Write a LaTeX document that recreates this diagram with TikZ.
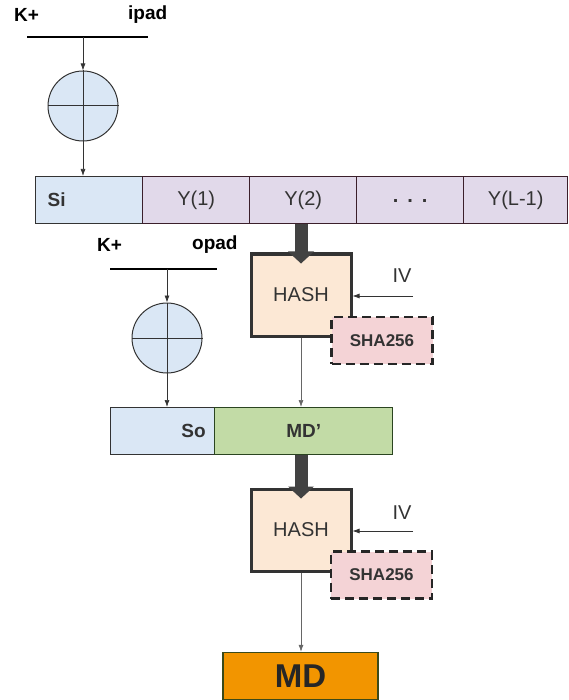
\documentclass[tikz,border=0pt]{standalone}
\usepackage{fontspec}
\setmainfont{Liberation Sans}
\usetikzlibrary{arrows.meta,calc}
\definecolor{siblue}{HTML}{DAE7F5}
\definecolor{ypurple}{HTML}{E1D9EA}
\definecolor{ypurpleb}{HTML}{3B1F2B}
\definecolor{hashfill}{HTML}{FCE8D5}
\definecolor{shafill}{HTML}{F4D3D6}
\definecolor{mdgreen}{HTML}{C2DBA6}
\definecolor{mdgreenb}{HTML}{2A4520}
\definecolor{mdorange}{HTML}{F29500}
\definecolor{mdorangeb}{HTML}{3A4A1A}
\definecolor{darkarrow}{HTML}{424242}
\definecolor{txtgray}{HTML}{333333}
\begin{document}
\begin{tikzpicture}[x=1pt,y=-1pt,
  lbl/.style={font=\fontsize{19}{22}\selectfont\bfseries, inner sep=0pt},
  reg/.style={font=\fontsize{20}{23}\selectfont, text=txtgray},
  cell/.style={draw=ypurpleb, line width=1.4pt, fill=ypurple, minimum width=107pt, minimum height=47pt, inner sep=0pt, anchor=north west, reg},
  bar/.style={line width=1.8pt, black},
  thin/.style={line width=0.7pt, draw=txtgray, -{Latex[length=7pt,width=5pt]}},
  xorc/.style={circle, draw=txtgray, line width=1pt, fill=siblue, minimum size=70pt, inner sep=0pt},
  hashbox/.style={draw=txtgray, line width=3pt, fill=hashfill, minimum width=100pt, minimum height=82pt, inner sep=0pt, reg},
  shabox/.style={draw=black!85, line width=2.8pt, dash pattern=on 9pt off 5pt, fill=shafill, minimum width=101pt, minimum height=47pt, inner sep=0pt, font=\fontsize{17}{20}\selectfont\bfseries, text=txtgray},
  bigshaft/.style={line width=13pt, draw=darkarrow},
  bighead/.style={fill=darkarrow},
]
\useasboundingbox (0,0) rectangle (569,700);

% ---- top: K+ ipad
\node[lbl, anchor=west] (kp1) at (14,15) {K+};
\node[lbl, anchor=west] (ipad) at (128,15) {ipad};
\coordinate (b1l) at (27,37);
\coordinate (b1r) at (148,37);
\coordinate (b1m) at (83,37);
\draw[bar] (b1l) -- (b1r);
\node[xorc] (c1) at (83,106) {};
\draw[line width=1pt, txtgray] (c1.north) -- (c1.south) (c1.west) -- (c1.east);

% ---- row of blocks
\node[cell, fill=siblue, draw=black!80, text width=83pt, align=left, font=\fontsize{19}{22}\selectfont\bfseries, text=txtgray] (si) at (35,176) {Si};
\node[cell] (y1) at (142,176) {Y(1)};
\node[cell] (y2) at (249,176) {Y(2)};
\node[cell, font=\fontsize{20}{23}\selectfont\bfseries] (ydots) at (356,176) {\raisebox{-4pt}{.\hspace{9pt}.\hspace{9pt}.}};
\node[cell, minimum width=104pt] (yl) at (463,176) {Y(L-1)};

\draw[thin] (b1m) -- (c1.north);
\draw[thin] (c1.south) -- (c1.south |- si.north);

% ---- K+ opad
\node[lbl, anchor=west] (kp2) at (97,245) {K+};
\node[lbl, anchor=west] (opad) at (192,245) {opad};
\coordinate (b2l) at (110,269);
\coordinate (b2r) at (217,269);
\coordinate (b2m) at (167,269);
\draw[bar] (b2l) -- (b2r);
\node[xorc] (c2) at (167,338) {};
\draw[line width=1pt, txtgray] (c2.north) -- (c2.south) (c2.west) -- (c2.east);

% ---- first hash
\node[hashbox] (h1) at (301,295) {HASH};
\node[shabox] (s1) at (382,340.5) {SHA256};
\node[reg] (iv1) at (402,276) {IV};
\coordinate (iv1s) at (413,296);
\draw[thin] (iv1s) -- (iv1s -| h1.east);
\draw[bigshaft] (h1.north |- y2.south) -- ($(h1.north)+(0,1)$);
\fill[bighead] ($(h1.north)+(-13,-1)$) -- ($(h1.north)+(13,-1)$) -- ($(h1.north)+(0,11)$) -- cycle;

% ---- So / MD'
\node[draw=black!80, line width=1.4pt, fill=siblue, minimum width=104pt, minimum height=47pt, inner sep=0pt, anchor=north west, text width=86pt, align=right, font=\fontsize{19}{22}\selectfont\bfseries, text=txtgray] (so) at (110,407) {So};
\node[draw=mdgreenb, line width=1.4pt, fill=mdgreen, minimum width=178pt, minimum height=47pt, inner sep=0pt, anchor=north west, font=\fontsize{19}{22}\selectfont\bfseries, text=txtgray] (mdp) at (214,407) {MD’};

\draw[thin] (b2m) -- (c2.north);
\draw[thin] (c2.south) -- (c2.south |- so.north);
\draw[thin, draw=black!60] (h1.south) -- (h1.south |- mdp.north);

% ---- second hash
\node[hashbox] (h2) at (301,530) {HASH};
\node[shabox] (s2) at (381.5,575) {SHA256};
\node[reg] (iv2) at (402,513) {IV};
\coordinate (iv2s) at (413,531);
\draw[thin] (iv2s) -- (iv2s -| h2.east);
\draw[bigshaft] (h2.north |- mdp.south) -- ($(h2.north)+(0,1)$);
\fill[bighead] ($(h2.north)+(-13,-1)$) -- ($(h2.north)+(13,-1)$) -- ($(h2.north)+(0,11)$) -- cycle;

% ---- MD
\node[draw=mdorangeb, line width=1.4pt, fill=mdorange, minimum width=155pt, minimum height=47pt, inner sep=0pt, font=\fontsize{33}{36}\selectfont\bfseries, text=black!85] (md) at (300.5,676) {MD};
\draw[thin, draw=black!60] (h2.south) -- (h2.south |- md.north);
\end{tikzpicture}
\end{document}
